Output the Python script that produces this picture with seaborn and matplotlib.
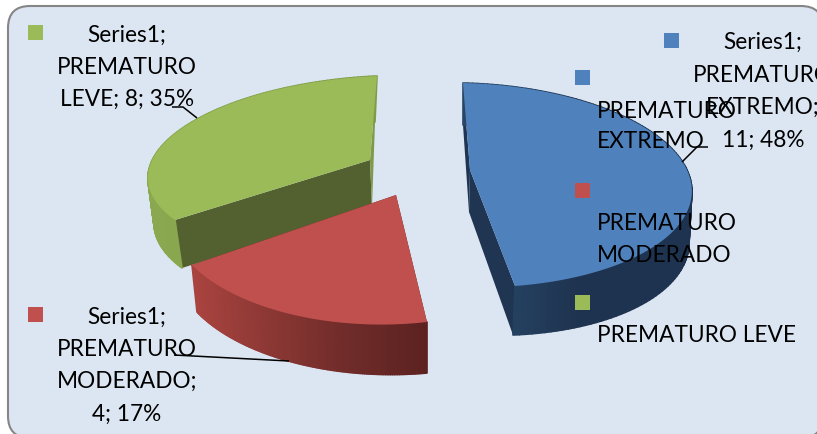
import numpy as np
import matplotlib
matplotlib.use("Agg")
import matplotlib.pyplot as plt
import seaborn as sns
from matplotlib.collections import PolyCollection
from matplotlib.patches import FancyBboxPatch, Rectangle
from matplotlib.path import Path
from matplotlib.transforms import Transform

categories = ["PREMATURO EXTREMO", "PREMATURO MODERADO", "PREMATURO LEVE"]
values = [11, 4, 8]
percents = [48, 17, 35]
series_name = "Series1"

colors = ["#4f81bd", "#c0504d", "#9bbb59"]
BG = "#dce6f2"

sns.set_theme(style="white")
plt.rcParams["font.family"] = ["Lato", "DejaVu Sans"]


def homography(src, dst):
    A, b = [], []
    for (x, y), (u, v) in zip(src, dst):
        A.append([x, y, 1, 0, 0, 0, -u * x, -u * y]); b.append(u)
        A.append([0, 0, 0, x, y, 1, -v * x, -v * y]); b.append(v)
    h = np.linalg.lstsq(np.array(A, float), np.array(b, float), rcond=None)[0]
    return np.append(h, 1).reshape(3, 3)


def apply_h(H, pts):
    pts = np.asarray(pts, float)
    p = np.c_[pts, np.ones(len(pts))] @ H.T
    return p[:, :2] / p[:, 2:]


class Persp(Transform):
    input_dims = output_dims = 2
    is_affine = False

    def __init__(self, H):
        super().__init__()
        self.H = H

    def transform_non_affine(self, values):
        return apply_h(self.H, values)

    def transform_path_non_affine(self, path):
        big = Path(path.vertices * 2000.0, path.codes)
        polys = big.to_polygons(closed_only=True)
        return Path(apply_h(self.H, polys[0] / 2000.0), closed=True)


# layout anchors in pixels: apex, arc start, arc middle, arc end
top_pts = [
    [(470, 170), (463, 83), (685, 166), (515, 286)],
    [(396, 195), (427, 322), (290, 314), (192, 265)],
    [(370, 160), (175, 220), (184, 127), (377, 76)],
]
bot_pts = [
    [(469, 212), (463, 125), (681, 214), (513, 335)],
    [(397, 245), (427, 373), (292, 362), (197, 312)],
    [(372, 208), (182, 268), (188, 172), (375, 122)],
]
outer_cols = [
    ["#2a4566", "#24405f", "#1e334f", "#1e334f", "#1e334f"],
    ["#a8433f", "#8a3734", "#6e2b29", "#5c2220"],
    ["#8aa84f", "#84a34c", "#7f9a48"],
]
wall_cols = ["#1f3552", "#5c2220", "#536130"]

fig = plt.figure(figsize=(8.17, 4.34), dpi=100, facecolor="white")
ax = fig.add_axes([0, 0, 1, 1])

wedges, _ = ax.pie(values, colors=colors, startangle=90, counterclock=False,
                   wedgeprops=dict(linewidth=0))
ax.set_aspect("auto")
ax.set_xlim(0, 817)
ax.set_ylim(434, 0)
ax.axis("off")

ax.add_patch(FancyBboxPatch((8, 6), 815, 432, boxstyle="round,pad=0,rounding_size=22",
                            fc=BG, ec="#868686", lw=1.5, zorder=0, mutation_aspect=1))

# pie runs clockwise: arc from the wedge's theta2 (start) to theta1 (end)
for i, w in enumerate(wedges):
    a0, a1 = np.radians(w.theta2), np.radians(w.theta1)
    am = (a0 + a1) / 2
    unit = [(0, 0), (np.cos(a0), np.sin(a0)), (np.cos(am), np.sin(am)), (np.cos(a1), np.sin(a1))]
    Ht = homography(unit, top_pts[i])
    Hb = homography(unit, bot_pts[i])
    z = {2: 2, 1: 5, 0: 8}[i]

    ts = np.linspace(a0, a1, 120)
    arc = np.c_[np.cos(ts), np.sin(ts)]
    at, ab = apply_h(Ht, arc), apply_h(Hb, arc)

    o = apply_h(Ht, [(0, 0)])[0], apply_h(Hb, [(0, 0)])[0]
    for k in (0, -1):
        ax.fill([o[0][0], at[k, 0], ab[k, 0], o[1][0]],
                [o[0][1], at[k, 1], ab[k, 1], o[1][1]],
                color=wall_cols[i] if not (i == 2 and k == -1) else "#7f9a48",
                lw=0, zorder=z)

    quads = [[at[j], at[j + 1], ab[j + 1], ab[j]] for j in range(len(ts) - 1)]
    xm = np.array([q[0][0] for q in quads])
    pal = sns.blend_palette(outer_cols[i], 64)
    idx = ((xm - xm.min()) / (xm.max() - xm.min()) * 63).astype(int)
    fc = [pal[j] for j in idx]
    ax.add_collection(PolyCollection(quads, facecolors=fc, edgecolors=fc, linewidths=1.2, zorder=z + 0.1))

    w.set_transform(Persp(Ht) + ax.transData)
    w.set_zorder(z + 0.2)
    w.set_clip_on(False)

# leader lines
for xs, ys in [((172, 183, 197), (107, 107, 118)),
               ((708, 697, 682), (147, 147, 162)),
               ((174, 289), (355, 361))]:
    ax.plot(xs, ys, color="black", lw=1.1, zorder=12, solid_capstyle="butt")

# markers
for (x, y), c in [((28, 25), colors[2]), ((28, 307), colors[1]), ((664, 33), colors[0]),
                  ((575, 70), colors[0]), ((575, 183), colors[1]), ((575, 295), colors[2])]:
    ax.add_patch(Rectangle((x, y), 15, 15, fc=c, ec="none", zorder=13))

FS = 16.3
txt = dict(color="#000000", fontsize=FS, va="center", zorder=14, clip_on=True)
# data labels
short = [c.split(" ")[1] for c in categories]
for (s, y) in zip([f"{series_name};", "PREMATURO", f"{short[2]}; {values[2]}; {percents[2]}%"], (35, 67, 99)):
    ax.text(127, y, s, ha="center", **txt)
for (s, y) in zip([f"{series_name};", "PREMATURO", f"{short[1]};", f"{values[1]}; {percents[1]}%"], (317, 349, 381, 414)):
    ax.text(127, y, s, ha="center", **txt)
for (s, y) in zip([f"{series_name};", "PREMATURO", f"{short[0]};", f"{values[0]}; {percents[0]}%"], (42, 75, 107, 140)):
    ax.text(763, y, s, ha="center", **txt)
# legend
for s, y in [("PREMATURO", 111), ("EXTREMO", 142), ("PREMATURO", 224), ("MODERADO", 255), (categories[2], 336)]:
    ax.text(597, y, s, ha="left", **txt)

fig.savefig("out.png", dpi=100, facecolor="white")
